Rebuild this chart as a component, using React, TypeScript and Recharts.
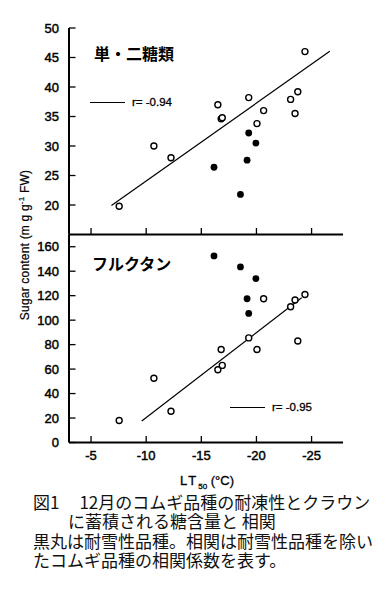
import React from 'react';
import { ScatterChart, Scatter, XAxis, YAxis, ReferenceLine, Label } from 'recharts';

// LT50 (°C) of each cultivar
const ltOpen = [-7.55, -10.7, -12.25, -16.5, -16.8, -16.9, -19.3, -20.05, -20.65, -23.1, -23.5, -23.75, -24.4];
const ltFilled = [-16.15, -18.55, -19.15, -19.3, -19.95];
// mono- and disaccharides (mg g-1 FW)
const sugarOpen = [19.8, 30.0, 28.0, 37.0, 34.6, 34.8, 38.2, 33.8, 36.0, 37.9, 35.5, 39.2, 46.0];
const sugarFilled = [26.4, 21.8, 27.6, 32.2, 30.5];
// fructan (mg g-1 FW)
const fructanOpen = [18, 52.5, 25.5, 59.5, 76, 63, 85.5, 76, 117.5, 111, 116.5, 83, 121];
const fructanFilled = [152.5, 143.5, 117.5, 105.5, 134];
// regression line end points
const sugarTrendX = [-6.85, -26.65];
const sugarTrendY = [19.9, 46.05];
const fructanTrendX = [-9.6, -24.1];
const fructanTrendY = [17.5, 118.3];
// ticks
const xTicks = [-25, -20, -15, -10, -5];
const sugarTicks = [20, 25, 30, 35, 40, 45, 50];
const fructanTicks = [0, 20, 40, 60, 80, 100, 120, 140, 160];
const xDomain: [number, number] = [-27.85, -3];
const sugarDomain: [number, number] = [15, 50];
const fructanDomain: [number, number] = [0, 170];
const sugarTitle = '単・二糖類';
const fructanTitle = 'フルクタン';
const sugarR = 'r= -0.94';
const fructanR = 'r= -0.95';

const toPoints = (xs: number[], ys: number[]) => xs.map((x, i) => ({ x, y: ys[i] }));

const sugarOpenData = toPoints(ltOpen, sugarOpen);
const sugarFilledData = toPoints(ltFilled, sugarFilled);
const fructanOpenData = toPoints(ltOpen, fructanOpen);
const fructanFilledData = toPoints(ltFilled, fructanFilled);
const sugarTrend = toPoints(sugarTrendX, sugarTrendY);
const fructanTrend = toPoints(fructanTrendX, fructanTrendY);

const FONT = '"Liberation Sans", Arial, sans-serif';
const TICK = 6.5;
const AX = { stroke: '#000', strokeWidth: 2 };

const BottomTick = (p: any) => (
  <g>
    <line x1={p.x} y1={p.y} x2={p.x} y2={p.y - TICK} stroke="#000" strokeWidth={1.3} />
    {p.show ? (
      <text x={p.x} y={p.y + 17.5} textAnchor="middle" fontSize={13} fontFamily={FONT} fill="#000" stroke="#000" strokeWidth={0.45}>
        {p.payload.value}
      </text>
    ) : null}
  </g>
);
const TopTick = (p: any) => (
  <line x1={p.x} y1={p.y} x2={p.x} y2={p.y + TICK} stroke="#000" strokeWidth={1.3} />
);
const LeftTick = (p: any) => (
  <g>
    <line x1={p.x} y1={p.y} x2={p.x + TICK} y2={p.y} stroke="#000" strokeWidth={1.3} />
    <text x={p.x - 10} y={p.y + 4.6} textAnchor="end" fontSize={13} fontFamily={FONT} fill="#000" stroke="#000" strokeWidth={0.45}>
      {p.payload.value}
    </text>
  </g>
);
const RightTick = (p: any) => (
  <line x1={p.x} y1={p.y} x2={p.x - TICK} y2={p.y} stroke="#000" strokeWidth={1.3} />
);

const OpenDot = (p: any) => <circle cx={p.cx} cy={p.cy} r={3} fill="#fff" stroke="#000" strokeWidth={1.4} />;
const FilledDot = (p: any) => <circle cx={p.cx} cy={p.cy} r={3.4} fill="#000" stroke="none" />;

const abs = (left: number, top: number, extra: React.CSSProperties = {}): React.CSSProperties => ({
  position: 'absolute',
  left,
  top,
  whiteSpace: 'nowrap',
  ...extra,
});

const LegendSample = ({ left, top, text }: { left: number; top: number; text: string }) => (
  <div style={abs(left, top, { display: 'flex', alignItems: 'center', fontFamily: FONT, fontSize: 11.5, color: '#000', height: 14 })}>
    <div style={{ width: 35, height: 0, borderTop: '1.6px solid #000', marginRight: 7 }} />
    <span style={{ WebkitTextStroke: '0.3px #000' }}>{text}</span>
  </div>
);

const capStyle: React.CSSProperties = {
  fontFamily: '"Noto Sans CJK JP", sans-serif',
  fontSize: 17,
  lineHeight: '19px',
  height: 19,
  color: '#111',
};

export default function App() {
  return (
    <div style={{ position: 'absolute', left: 0, top: 0, width: 388, height: 606, background: '#fff', overflow: 'hidden' }}>
      <div style={abs(0, 0)}>
        <ScatterChart width={388} height={236} margin={{ top: 28, right: 45, bottom: 0, left: 0 }}>
          <XAxis type="number" dataKey="x" domain={xDomain} reversed allowDataOverflow ticks={xTicks}
            height={1.5} axisLine={AX} tickLine={false} tickSize={0} tickMargin={0}
            tick={(p: any) => <BottomTick {...p} show={false} />} />
          <XAxis xAxisId="top" orientation="top" type="number" domain={xDomain} reversed allowDataOverflow ticks={xTicks}
            height={0} axisLine={AX} tickLine={false} tickSize={0} tickMargin={0} tick={(p: any) => <TopTick {...p} />} />
          <YAxis type="number" dataKey="y" domain={sugarDomain} allowDataOverflow ticks={sugarTicks} width={69}
            axisLine={AX} tickLine={false} tickSize={0} tickMargin={0} tick={(p: any) => <LeftTick {...p} />} />
          <YAxis yAxisId="right" orientation="right" type="number" domain={sugarDomain} allowDataOverflow ticks={sugarTicks} width={0}
            axisLine={AX} tickLine={false} tickSize={0} tickMargin={0} tick={(p: any) => <RightTick {...p} />} />
          <ReferenceLine segment={sugarTrend} stroke="#000" strokeWidth={1.2} ifOverflow="visible" />
          <Scatter data={sugarOpenData} shape={OpenDot} isAnimationActive={false} />
          <Scatter data={sugarFilledData} shape={FilledDot} isAnimationActive={false} />
        </ScatterChart>
      </div>
      <div style={abs(0, 0)}>
        <ScatterChart width={388} height={490} margin={{ top: 234.5, right: 45, bottom: 0, left: 0 }}>
          <XAxis type="number" dataKey="x" domain={xDomain} reversed allowDataOverflow ticks={xTicks}
            height={47.5} axisLine={AX} tickLine={false} tickSize={0} tickMargin={0}
            tick={(p: any) => <BottomTick {...p} show />}>
            <Label
              content={(lp: any) => {
                const vb = lp.viewBox || { x: 69, y: 442.5, width: 274 };
                return (
                  <text x={vb.x + vb.width / 2 + 1} y={vb.y + 42} textAnchor="middle" fontSize={13} fontFamily={FONT} fill="#000"
                    stroke="#000" strokeWidth={0.3}>
                    <tspan letterSpacing={2}>LT</tspan>
                    <tspan fontSize={8} dy={4}>50</tspan>
                    <tspan dy={-4}> (°C)</tspan>
                  </text>
                );
              }}
            />
          </XAxis>
          <XAxis xAxisId="top" orientation="top" type="number" domain={xDomain} reversed allowDataOverflow ticks={xTicks}
            height={0} axisLine={AX} tickLine={false} tickSize={0} tickMargin={0} tick={(p: any) => <TopTick {...p} />} />
          <YAxis type="number" dataKey="y" domain={fructanDomain} allowDataOverflow ticks={fructanTicks} width={69}
            axisLine={AX} tickLine={false} tickSize={0} tickMargin={0} tick={(p: any) => <LeftTick {...p} />}>
            <Label
              content={() => (
                <text transform="translate(29,245) rotate(-90)" textAnchor="middle" fontSize={12} fontFamily={FONT}
                  fill="#000" letterSpacing={0.2} stroke="#000" strokeWidth={0.2}>
                  <tspan>Sugar content (m g g</tspan>
                  <tspan fontSize={8} dy={-5}>-1</tspan>
                  <tspan dy={5}>{'  FW)'}</tspan>
                </text>
              )}
            />
          </YAxis>
          <YAxis yAxisId="right" orientation="right" type="number" domain={fructanDomain} allowDataOverflow ticks={fructanTicks} width={0}
            axisLine={AX} tickLine={false} tickSize={0} tickMargin={0} tick={(p: any) => <RightTick {...p} />} />
          <ReferenceLine segment={fructanTrend} stroke="#000" strokeWidth={1.2} ifOverflow="visible" />
          <Scatter data={fructanOpenData} shape={OpenDot} isAnimationActive={false} />
          <Scatter data={fructanFilledData} shape={FilledDot} isAnimationActive={false} />
        </ScatterChart>
      </div>

      <div style={abs(94, 44, { fontFamily: '"Noto Sans CJK JP", sans-serif', fontWeight: 700, fontSize: 16, lineHeight: '18px', color: '#000' })}>
        {sugarTitle}
      </div>
      <div style={abs(92, 254, { fontFamily: '"Noto Sans CJK JP", sans-serif', fontWeight: 700, fontSize: 16, lineHeight: '18px', color: '#000' })}>
        {fructanTitle}
      </div>
      <LegendSample left={90} top={95} text={sugarR} />
      <LegendSample left={230} top={400} text={fructanR} />

      <div style={abs(33, 492, capStyle)}>
        図1<span style={{ marginLeft: 20 }}>12月のコムギ品種の耐凍性とクラウン</span>
      </div>
      <div style={abs(68, 511, capStyle)}>に蓄積される糖含量と 相関</div>
      <div style={abs(33, 530.5, capStyle)}>黒丸は耐雪性品種。相関は耐雪性品種を除い</div>
      <div style={abs(33, 549.5, capStyle)}>たコムギ品種の相関係数を表す。</div>
    </div>
  );
}
